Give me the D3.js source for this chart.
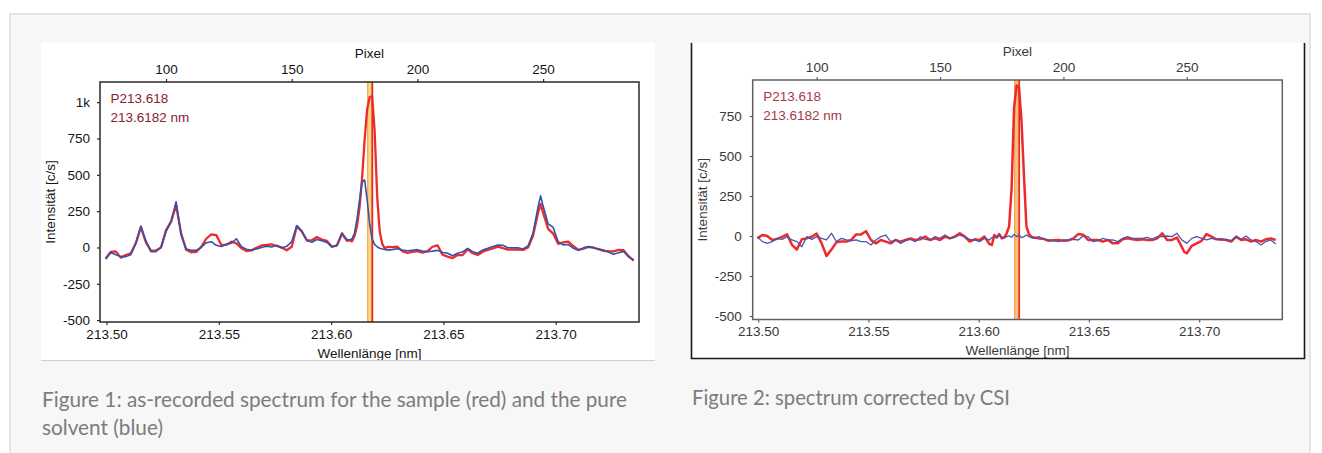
<!DOCTYPE html>
<html>
<head>
<meta charset="utf-8">
<script src="https://cdn.jsdelivr.net/npm/d3@7"></script>
<style>
  body { margin: 0; background: #fff; }
  svg { display: block; }
</style>
</head>
<body>
<svg id="viz"></svg>
<script>
// Detector pixels (x data shared by both spectra)
const pixels = [76,78,80,82,84,86,88,90,92,94,96,98,100,102,104,106,108,110,112,114,116,118,120,122,124,126,128,130,132,134,136,138,140,142,144,146,148,150,152,154,156,158,160,162,164,166,168,
  170,171,172,173,174,175,176,177,178,179,180,181,182,183,184,185,186,187,188,
  190,192,194,196,198,200,202,204,206,208,210,212,214,216,218,220,222,224,226,228,230,232,234,236,238,240,242,244,246,248,
  249,
  250,252,254,256,258,260,262,264,266,268,270,272,274,276,278,280,282,284,286];

// Figure 1: as recorded (c/s)
const sampleRaw = [-75,-30,-27,-70,-52,-40,30,140,35,-22,-20,0,120,178,292,97,-15,-33,-30,5,60,90,85,17,18,40,28,-5,-25,-20,-2,14,17,21,10,0,-19,5,145,110,48,50,72,55,45,5,15,
  95,70,45,50,42,80,150,280,480,740,950,1035,1040,800,350,110,25,-6,4,
  3,5,-25,-38,-31,-25,-35,-25,5,15,-50,-63,-73,-52,-52,-13,-40,-52,-29,-17,-6,6,-5,-15,-15,-15,-17,0,80,240,
  300,
  240,128,95,25,35,40,10,-17,-8,4,0,-12,-23,-26,-27,-17,-19,-60,-90];
const solventRaw = [-81,-35,-50,-63,-63,-50,30,148,45,-29,-29,0,109,178,315,86,-10,-20,-20,0,33,40,15,6,22,30,60,5,-12,-17,-10,0,8,3,15,-4,8,40,150,115,50,35,55,46,35,4,14,
  100,75,55,52,60,100,200,330,450,465,330,160,60,20,5,-5,-10,-13,-18,
  -15,-9,-18,-23,-19,-15,-25,-29,-25,-20,-35,-40,-57,-40,-30,-6,-29,-40,-17,-6,6,17,15,-2,-3,-2,-10,10,100,280,
  355,
  285,163,138,40,18,20,-5,-20,-3,4,-3,-10,-18,-31,-46,-36,-27,-65,-86];

// Figure 2: corrected by CSI (c/s)
const sampleCorr = [-15,6,0,-25,-18,-5,10,-55,-85,-20,-15,-5,15,-45,-125,-85,-40,-35,-35,-25,10,10,30,-25,-46,-25,-35,-46,-25,-35,-25,-15,-25,-21,-4,-25,-15,-25,-4,-15,-4,17,-4,-35,-21,-25,-4,
  -50,-56,6,-10,12,-15,-10,17,60,300,800,940,930,720,380,60,12,-4,-10,
  -15,-18,-30,-27,-25,-30,-28,-15,12,8,-25,-25,-25,-35,-25,-46,-46,-21,-15,-21,-25,-21,-25,-25,-15,17,-25,-25,-10,-70,
  -100,
  -108,-62,-46,-30,12,-4,-21,-21,-25,-35,-4,-25,-21,-35,-25,-35,-21,-15,-25];
const solventCorr = [-4,-35,-46,-35,-15,-21,-4,-25,-35,-67,-4,-21,-4,-15,-25,17,-35,-15,-25,-29,-25,-35,-35,-56,-25,-4,6,-35,-25,-46,-29,-21,-35,-4,-21,-25,-4,-15,6,-15,-8,6,-4,-21,-25,-35,-15,
  -25,-10,-4,-8,6,-5,-10,-4,0,-8,10,-4,6,-10,-4,6,-4,-10,-15,
  -4,-21,-25,-29,-35,-25,-25,-21,-25,0,-4,-35,-29,-15,-25,-25,-35,-15,-4,-15,-15,-15,-8,-21,-4,-4,0,-4,17,-25,
  -35,
  -46,-15,-4,-15,-25,-15,-21,-25,-21,-29,-4,-21,0,-25,-35,-56,-35,-25,-50];

// Axis ticks and calibration
const wlTicks = [213.50, 213.55, 213.60, 213.65, 213.70];
const pixelTicks = [100, 150, 200, 250];
const yTicks1 = [-500, -250, 0, 250, 500, 750, 1000];
const yTicks2 = [-500, -250, 0, 250, 500, 750];
const calibPixels = [100, 250];
const calibWl = [213.5265, 213.6944];
const markerBand = [213.6163, 213.6180];
const markerLine = 213.6184;
const noteLines = ["P213.618", "213.6182 nm"];

const FONT = "'Liberation Sans', Arial, sans-serif";
const FS = 13.5;
const pxToWl = d3.scaleLinear().domain(calibPixels).range(calibWl);

const svg = d3.select("#viz").attr("width", 1322).attr("height", 453);

// page panel
svg.append("rect")
  .attr("x", 10).attr("y", 14).attr("width", 1300).attr("height", 460)
  .attr("fill", "#f7f7f7").attr("stroke", "#e4e4e4").attr("stroke-width", 2);

function drawSpectrum(opt) {
  const { left, right, top, bottom } = opt.plot;
  const g = svg.append("g");

  // white image area
  g.append("rect")
    .attr("x", opt.box[0]).attr("y", opt.box[1])
    .attr("width", opt.box[2] - opt.box[0]).attr("height", opt.box[3] - opt.box[1])
    .attr("fill", "#fff");

  const x = d3.scaleLinear().domain(opt.wlDomain).range([left, right]);
  const y = d3.scaleLinear().domain(opt.yDomain).range([bottom, top]);
  const xPix = d3.scaleLinear().domain(opt.wlDomain.map(pxToWl.invert)).range([left, right]);

  const styleAxis = sel => {
    sel.select(".domain").remove();
    sel.attr("font-family", FONT).attr("font-size", FS);
    sel.selectAll("text").attr("fill", opt.ink);
    sel.selectAll("line").attr("stroke", opt.frame).attr("stroke-width", 1.2);
  };

  g.append("g")
    .attr("transform", `translate(0,${bottom})`)
    .call(d3.axisBottom(x).tickValues(wlTicks).tickFormat(d3.format(".2f")).tickSize(3).tickPadding(4))
    .call(styleAxis);

  g.append("g")
    .attr("transform", `translate(0,${top})`)
    .call(d3.axisTop(xPix).tickValues(pixelTicks).tickFormat(d3.format("d")).tickSize(3).tickPadding(5))
    .call(styleAxis);

  g.append("g")
    .attr("transform", `translate(${left},0)`)
    .call(d3.axisLeft(y).tickValues(opt.yTicks)
      .tickFormat(d => d === 1000 ? "1k" : String(d)).tickSize(3).tickPadding(opt.yPad))
    .call(styleAxis);

  // axis titles
  g.append("text")
    .attr("x", (left + right) / 2).attr("y", top - 24)
    .attr("text-anchor", "middle").attr("font-family", FONT).attr("font-size", FS)
    .attr("fill", opt.ink).text("Pixel");
  g.append("text")
    .attr("x", (left + right) / 2).attr("y", bottom + 35.5)
    .attr("text-anchor", "middle").attr("font-family", FONT).attr("font-size", FS)
    .attr("fill", opt.ink).text("Wellenlänge [nm]");
  g.append("text")
    .attr("transform", `translate(${left - 50},${(top + bottom) / 2}) rotate(-90)`)
    .attr("dy", "0.35em")
    .attr("text-anchor", "middle").attr("font-family", FONT).attr("font-size", FS)
    .attr("fill", opt.ink).text("Intensität [c/s]");

  // clip for plot content
  const clipId = "clip-" + opt.id;
  g.append("clipPath").attr("id", clipId)
    .append("rect").attr("x", left).attr("y", top)
    .attr("width", right - left).attr("height", bottom - top);
  const inner = g.append("g").attr("clip-path", `url(#${clipId})`);

  // peak marker: window band + line position
  inner.append("rect")
    .attr("x", x(markerBand[0])).attr("y", top)
    .attr("width", x(markerBand[1]) - x(markerBand[0])).attr("height", bottom - top)
    .attr("fill", opt.bandFill).attr("stroke", "#f19b38").attr("stroke-width", 1);
  inner.append("line")
    .attr("x1", x(markerLine)).attr("x2", x(markerLine))
    .attr("y1", top).attr("y2", bottom)
    .attr("stroke", "#e52b26").attr("stroke-width", 1.6);

  const line = vals => d3.line()
    .x((d, i) => x(pxToWl(pixels[i])))
    .y(d => y(d))(vals);

  inner.append("path")
    .attr("d", line(opt.red))
    .attr("fill", "none").attr("stroke", "#ee2a2a")
    .attr("stroke-width", opt.redWidth).attr("stroke-linejoin", "round");
  inner.append("path")
    .attr("d", line(opt.blue))
    .attr("fill", "none").attr("stroke", opt.blueColor)
    .attr("stroke-width", opt.blueWidth).attr("stroke-linejoin", "round");

  // plot frame
  g.append("rect")
    .attr("x", left).attr("y", top)
    .attr("width", right - left).attr("height", bottom - top)
    .attr("fill", "none").attr("stroke", opt.frame).attr("stroke-width", 1.5);

  // peak annotation
  noteLines.forEach((t, i) => {
    g.append("text")
      .attr("x", left + 10.5).attr("y", top + 21 + i * 18.5)
      .attr("font-family", FONT).attr("font-size", FS)
      .attr("fill", opt.noteColor).text(t);
  });

  return g;
}

drawSpectrum({
  id: "raw",
  box: [41, 43, 655, 360],
  plot: { left: 100, right: 639, top: 82, bottom: 322 },
  wlDomain: [213.4971, 213.7371],
  yDomain: [-513, 1139],
  yTicks: yTicks1,
  yPad: 7,
  red: sampleRaw, blue: solventRaw,
  ink: "#151515", frame: "#2a2a2a", noteColor: "#8a2030",
  bandFill: "#fcd68a", redWidth: 2.3, blueWidth: 1.6, blueColor: "#3252ad"
});

drawSpectrum({
  id: "corr",
  box: [691, 43, 1305, 358],
  plot: { left: 752.7, right: 1282.3, top: 80, bottom: 319.5 },
  wlDomain: [213.4975, 213.7377],
  yDomain: [-522, 975],
  yTicks: yTicks2,
  yPad: 8,
  red: sampleCorr, blue: solventCorr,
  ink: "#383838", frame: "#606060", noteColor: "#a8384c",
  bandFill: "#f8bf84", redWidth: 2.5, blueWidth: 1.3, blueColor: "#4a55b0"
});

// image borders
svg.append("line")
  .attr("x1", 41).attr("x2", 655).attr("y1", 360.5).attr("y2", 360.5)
  .attr("stroke", "#cfcfcf").attr("stroke-width", 1);
svg.append("path")
  .attr("d", "M691.5,43V358.5H1304.5V43")
  .attr("fill", "none").attr("stroke", "#1a1a1a").attr("stroke-width", 1.6);

// captions
const CAP_FONT = "Lato, 'Open Sans', sans-serif";
const captions = [
  { x: 42, y: 407, w: 585, t: "Figure 1: as-recorded spectrum for the sample (red) and the pure" },
  { x: 42, y: 435, w: 121, t: "solvent (blue)" },
  { x: 692, y: 405, w: 318, t: "Figure 2: spectrum corrected by CSI" }
];
captions.forEach(c => {
  svg.append("text")
    .attr("x", c.x).attr("y", c.y)
    .attr("font-family", CAP_FONT).attr("font-size", 20.5)
    .attr("fill", "#7c7c7c")
    .attr("textLength", c.w).attr("lengthAdjust", "spacingAndGlyphs")
    .text(c.t);
});
</script>
</body>
</html>
